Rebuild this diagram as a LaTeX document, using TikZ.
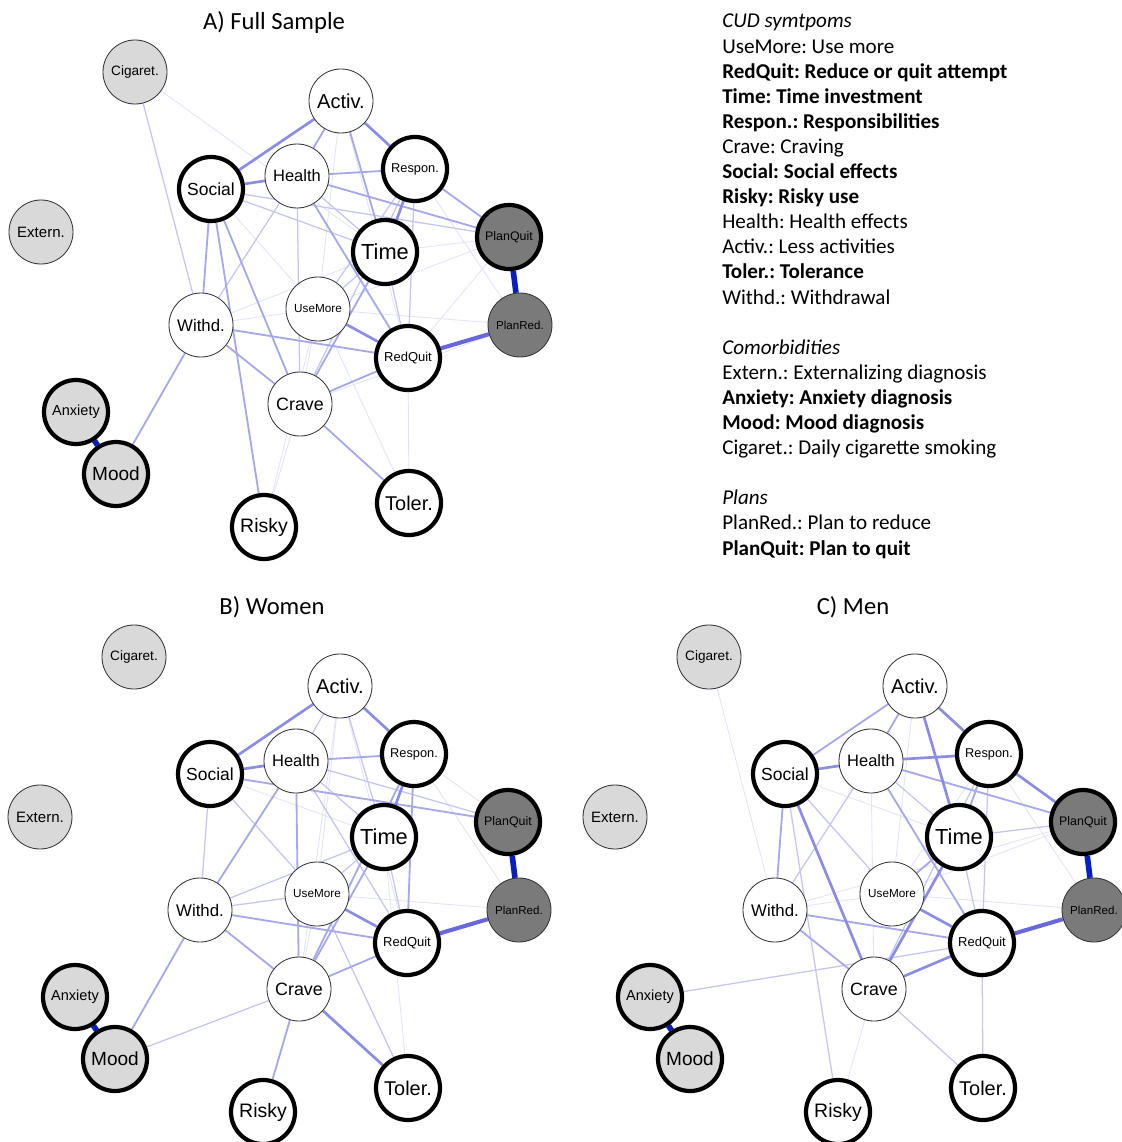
\documentclass[tikz,border=0pt]{standalone}
\usepackage{fontspec}
\setmainfont{Carlito}
\newfontfamily\arialfont{Liberation Sans}
\usetikzlibrary{backgrounds}
\definecolor{edgeblue}{RGB}{95,95,220}
\definecolor{strongblue}{RGB}{8,30,195}
\definecolor{planfill}{RGB}{122,122,122}
\definecolor{comfill}{RGB}{217,217,217}
\newcommand{\fitlbl}[1]{\resizebox{1.19cm}{!}{\arialfont #1}}
\tikzset{
  var/.style={circle,draw=black!80,line width=0.6pt,fill=white,minimum size=1.6cm,inner sep=0pt},
  boldvar/.style={var,draw=black,line width=3pt},
  comorb/.style={var,fill=comfill},
  boldcomorb/.style={boldvar,fill=comfill},
  plan/.style={var,fill=planfill},
  boldplan/.style={boldvar,fill=planfill},
  wfaint/.style={draw=edgeblue!18,line width=0.6pt},
  wlow/.style={draw=edgeblue!36,line width=0.9pt},
  wmid/.style={draw=edgeblue!55,line width=1.3pt},
  whigh/.style={draw=edgeblue!72,line width=1.9pt},
  wstrong/.style={draw=edgeblue!95,line width=2.9pt},
  wtop/.style={draw=strongblue,line width=4pt},
  paneltitle/.style={font=\fontsize{17.5pt}{20pt}\selectfont},
  keytext/.style={align=left,inner sep=0pt,anchor=north west,font=\fontsize{15pt}{17.85pt}\selectfont}
}
% one network layout, #1 = panel prefix
\newcommand{\cudnodes}[1]{%
  \node[comorb]     (#1-cig)  at (135,72)  {\fitlbl{Cigaret.}};
  \node[var]        (#1-act)  at (341,101) {\fitlbl{Activ.}};
  \node[var]        (#1-hea)  at (297,176) {\fitlbl{Health}};
  \node[boldvar]    (#1-soc)  at (211,189) {\fitlbl{Social}};
  \node[boldvar]    (#1-res)  at (415,169) {\fitlbl{Respon.}};
  \node[comorb]     (#1-ext)  at (41,232)  {\fitlbl{Extern.}};
  \node[boldplan]   (#1-pq)   at (509,237) {\fitlbl{PlanQuit}};
  \node[boldvar]    (#1-time) at (385,252) {\fitlbl{Time}};
  \node[var]        (#1-um)   at (318,309) {\fitlbl{UseMore}};
  \node[var]        (#1-wit)  at (201,325) {\fitlbl{Withd.}};
  \node[plan]       (#1-pr)   at (520,325) {\fitlbl{PlanRed.}};
  \node[boldvar]    (#1-rq)   at (408,358) {\fitlbl{RedQuit}};
  \node[var]        (#1-cra)  at (300,404) {\fitlbl{Crave}};
  \node[boldcomorb] (#1-anx)  at (76,412)  {\fitlbl{Anxiety}};
  \node[boldcomorb] (#1-mood) at (116,474) {\fitlbl{Mood}};
  \node[boldvar]    (#1-tol)  at (409,503) {\fitlbl{Toler.}};
  \node[boldvar]    (#1-risk) at (264,527) {\fitlbl{Risky}};
}
% #1 = prefix, #2 = edge style, #3 = pairs
\newcommand{\cudedges}[3]{\foreach \a/\b in {#3} \draw[#2] (#1-\a) -- (#1-\b);}

\begin{document}
\frenchspacing
\begin{tikzpicture}[x=0.025cm,y=-0.025cm,line cap=round]
\useasboundingbox (0,0) rectangle (1122,1142);
% --- A) full sample
\node[paneltitle] (titleA) at (274,22) {A) Full Sample};
\begin{scope}
\cudnodes{A}
\begin{scope}[on background layer]
\cudedges{A}{wfaint}{soc/um,res/pr,time/pq,um/wit,um/cra,um/tol,um/pr,cig/time,cra/risk,um/risk,rq/tol,act/um,act/rq,pq/rq,pq/um,time/wit,pr/cra}
\cudedges{A}{wlow}{soc/pq,soc/time,hea/wit,hea/cra,hea/time,res/rq,res/cra,time/um,time/rq,cig/wit,res/um}
\cudedges{A}{wmid}{act/hea,act/time,soc/wit,soc/risk,soc/cra,hea/res,hea/pq,hea/rq,res/pq,time/cra,wit/rq,wit/cra,wit/mood,cra/rq,cra/tol}
\cudedges{A}{whigh}{act/soc,act/res,soc/hea,res/time,um/rq}
\cudedges{A}{wstrong}{rq/pr}
\cudedges{A}{wtop}{pq/pr,anx/mood}
\end{scope}
\end{scope}
% --- legend
\node[keytext] (key) at (722,14) {\textit{CUD symtpoms}\\
UseMore: Use more\\
\textbf{RedQuit: Reduce or quit attempt}\\
\textbf{Time: Time investment}\\
\textbf{Respon.: Responsibilities}\\
Crave: Craving\\
\textbf{Social: Social effects}\\
\textbf{Risky: Risky use}\\
Health: Health effects\\
Activ.: Less activities\\
\textbf{Toler.: Tolerance}\\
Withd.: Withdrawal\\[17.85pt]
\textit{Comorbidities}\\
Extern.: Externalizing diagnosis\\
\textbf{Anxiety: Anxiety diagnosis}\\
\textbf{Mood: Mood diagnosis}\\
Cigaret.: Daily cigarette smoking\\[17.85pt]
\textit{Plans}\\
PlanRed.: Plan to reduce\\
\textbf{PlanQuit: Plan to quit}};
% --- B) women
\node[paneltitle] (titleB) at (272,607) {B) Women};
\begin{scope}[shift={(-1,585)}]
\cudnodes{B}
\begin{scope}[on background layer]
\cudedges{B}{wfaint}{act/um,act/rq,act/cra,res/pq,res/pr,um/pr,time/tol,soc/time,um/cra}
\cudedges{B}{wlow}{act/hea,act/time,hea/pq,soc/wit,soc/um,hea/rq,hea/time,time/um,time/wit,time/rq,um/wit,cra/mood,um/tol}
\cudedges{B}{wmid}{soc/pq,hea/res,hea/wit,hea/cra,res/rq,res/cra,time/cra,wit/rq,wit/cra,wit/mood,cra/rq,cra/risk}
\cudedges{B}{whigh}{act/soc,act/res,soc/hea,res/time,um/rq,cra/tol}
\cudedges{B}{wstrong}{rq/pr}
\cudedges{B}{wtop}{pq/pr,anx/mood}
\end{scope}
\end{scope}
% --- C) men
\node[paneltitle] (titleC) at (853,607) {C) Men};
\begin{scope}[shift={(574,585)}]
\cudnodes{C}
\begin{scope}[on background layer]
\cudedges{C}{wfaint}{cig/wit,act/um,soc/time,hea/cra,res/um,um/pq,wit/um,cra/risk,pr/um,pr/res,pq/wit}
\cudedges{C}{wlow}{soc/risk,soc/um,hea/time,hea/wit,res/rq,res/cra,time/pq,time/rq,anx/rq,cra/tol,rq/tol}
\cudedges{C}{wmid}{act/soc,act/hea,soc/wit,hea/pq,hea/rq,res/time,time/um,wit/rq,wit/cra}
\cudedges{C}{whigh}{act/res,act/time,soc/hea,soc/cra,hea/res,res/pq,time/cra,um/rq,cra/rq}
\cudedges{C}{wstrong}{rq/pr}
\cudedges{C}{wtop}{pq/pr,anx/mood}
\end{scope}
\end{scope}
\end{tikzpicture}
\end{document}
